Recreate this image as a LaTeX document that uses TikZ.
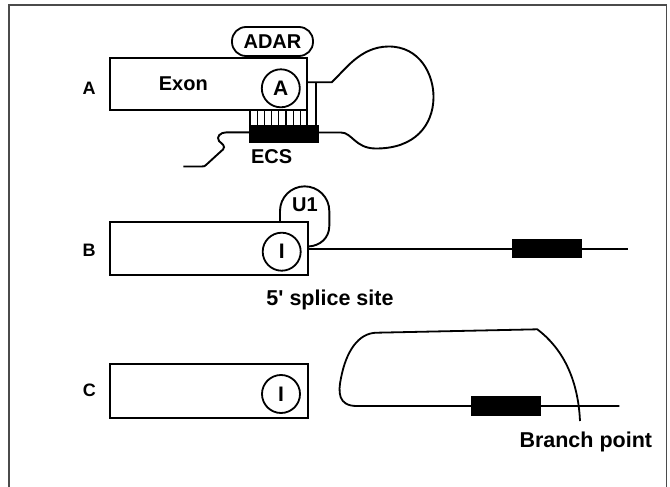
\documentclass[tikz,border=0pt]{standalone}
\usepackage{fontspec}
\setmainfont{Liberation Sans}[Ligatures=TeXOff]
\begin{document}
\begin{tikzpicture}[x=1pt,y=-1pt,
  ln/.style={line width=1.9pt, black},
  thin/.style={line width=1.2pt, black},
  gbox/.style={draw, line width=2pt, inner sep=0pt},
  ring/.style={draw, circle, line width=1.8pt, minimum size=38pt, inner sep=0pt, font=\fontsize{21}{21}\selectfont\bfseries},
  txt/.style={font=\fontsize{20}{20}\selectfont\bfseries, inner sep=0pt},
  bigtxt/.style={font=\fontsize{21.5}{21.5}\selectfont\bfseries, inner sep=0pt},
  panel/.style={font=\fontsize{18}{18}\selectfont\bfseries, inner sep=0pt},
  bar/.style={fill=black, draw=none}]
\useasboundingbox (0,0) rectangle (670,487);
% frame
\draw[line width=1.5pt, color={rgb,255:red,75;green,75;blue,75}] (9,500) -- (9,5) -- (666.7,5) -- (666.7,500);

% ---------- Panel A ----------
\node[panel] (lA) at (89,88) {A};
\node[gbox, minimum width=197pt, minimum height=52pt] (boxA) at (208.5,84) {};
\node[txt] (exon) at (183.3,83.3) {Exon};
\node[ring] (cA) at (280.8,88.3) {A};
\node[draw, line width=1.8pt, rounded corners=14pt, minimum width=81pt, minimum height=29pt, inner sep=0pt, font=\fontsize{20}{20}\selectfont\bfseries] (adar) at (272.5,41.5) {ADAR};
% ECS bar
\node[bar, minimum width=70pt, minimum height=18.3pt, inner sep=0pt] (ecs) at (284,134.2) {};
\node[txt] (ecsl) at (271.7,156.7) {ECS};
% ticks
\foreach \xx in {250,257.2,264.4,271.6,278.8,286,293.2,300.4}
  \draw[thin] (\xx,110) -- (\xx,125.5);
\draw[ln] (307,109) -- (307,125.5);
% hairpin
\coordinate (hpT) at (307,82.3);
\coordinate (hpB) at (319,132.5);
\draw[ln] (hpT) -- (331.7,82.3)
  .. controls (345,70) and (360,47) .. (388,46.5)
  .. controls (420,46) and (434,75) .. (433.5,98)
  .. controls (433,125) and (415,149) .. (375,148.5)
  .. controls (355,148) and (352,132.5) .. (341,132.5) -- (hpB);
\draw[ln] (315.7,82.3) -- (315.7,125.5);
% wavy tail
\coordinate (tailEnd) at (183.3,166.5);
\draw[ln] (ecs.west |- 0,132.3) -- (226.7,132.3)
  .. controls (220,132.3) and (216,137) .. (219,141)
  .. controls (222,144) and (226,146) .. (223,149.5)
  .. controls (221,151) and (220,152) .. (218,154)
  -- (206,165) .. controls (205,166) and (204,166.5) .. (202,166.5) -- (tailEnd);

% ---------- Panel B ----------
\node[panel] (lB) at (89,250) {B};
\node[gbox, minimum width=198.3pt, minimum height=52.7pt] (boxB) at (209.2,248.7) {};
\node[ring] (cB) at (281.7,251.7) {I};
\draw[ln] (280,222.3) -- (280,211) arc (180:360:24.65) -- (329.3,226)
  .. controls (329.3,238) and (320,246) .. (308.3,246.5);
\node[txt] (u1) at (305,205) {U1};
\coordinate (lineBend) at (627.7,249.3);
\draw[ln, line width=1.7pt] (308.3,249.3) -- (lineBend);
\node[bar, minimum width=70pt, minimum height=19.3pt, inner sep=0pt] (barB) at (547.3,248.7) {};
\node[bigtxt] (ss) at (330,300) {5' splice site};

% ---------- Panel C ----------
\node[panel] (lC) at (89.3,390) {C};
\node[gbox, minimum width=197.7pt, minimum height=54pt] (boxC) at (208.9,390.7) {};
\node[ring] (cC) at (281,394) {I};
\coordinate (lineCend) at (619.3,406);
\coordinate (bpEnd) at (580,421);
\draw[ln, line width=1.8pt] (lineCend) -- (356.7,406)
  .. controls (338,406) and (338,392) .. (341,378)
  .. controls (346,352) and (358,332.7) .. (377,332.7)
  -- (537.3,329.3)
  .. controls (562,348) and (578,378) .. (bpEnd);
\node[bar, minimum width=70pt, minimum height=19.7pt, inner sep=0pt] (barC) at (505.7,405.9) {};
\node[bigtxt] (bp) at (585.8,441.7) {Branch point};
\end{tikzpicture}
\end{document}
